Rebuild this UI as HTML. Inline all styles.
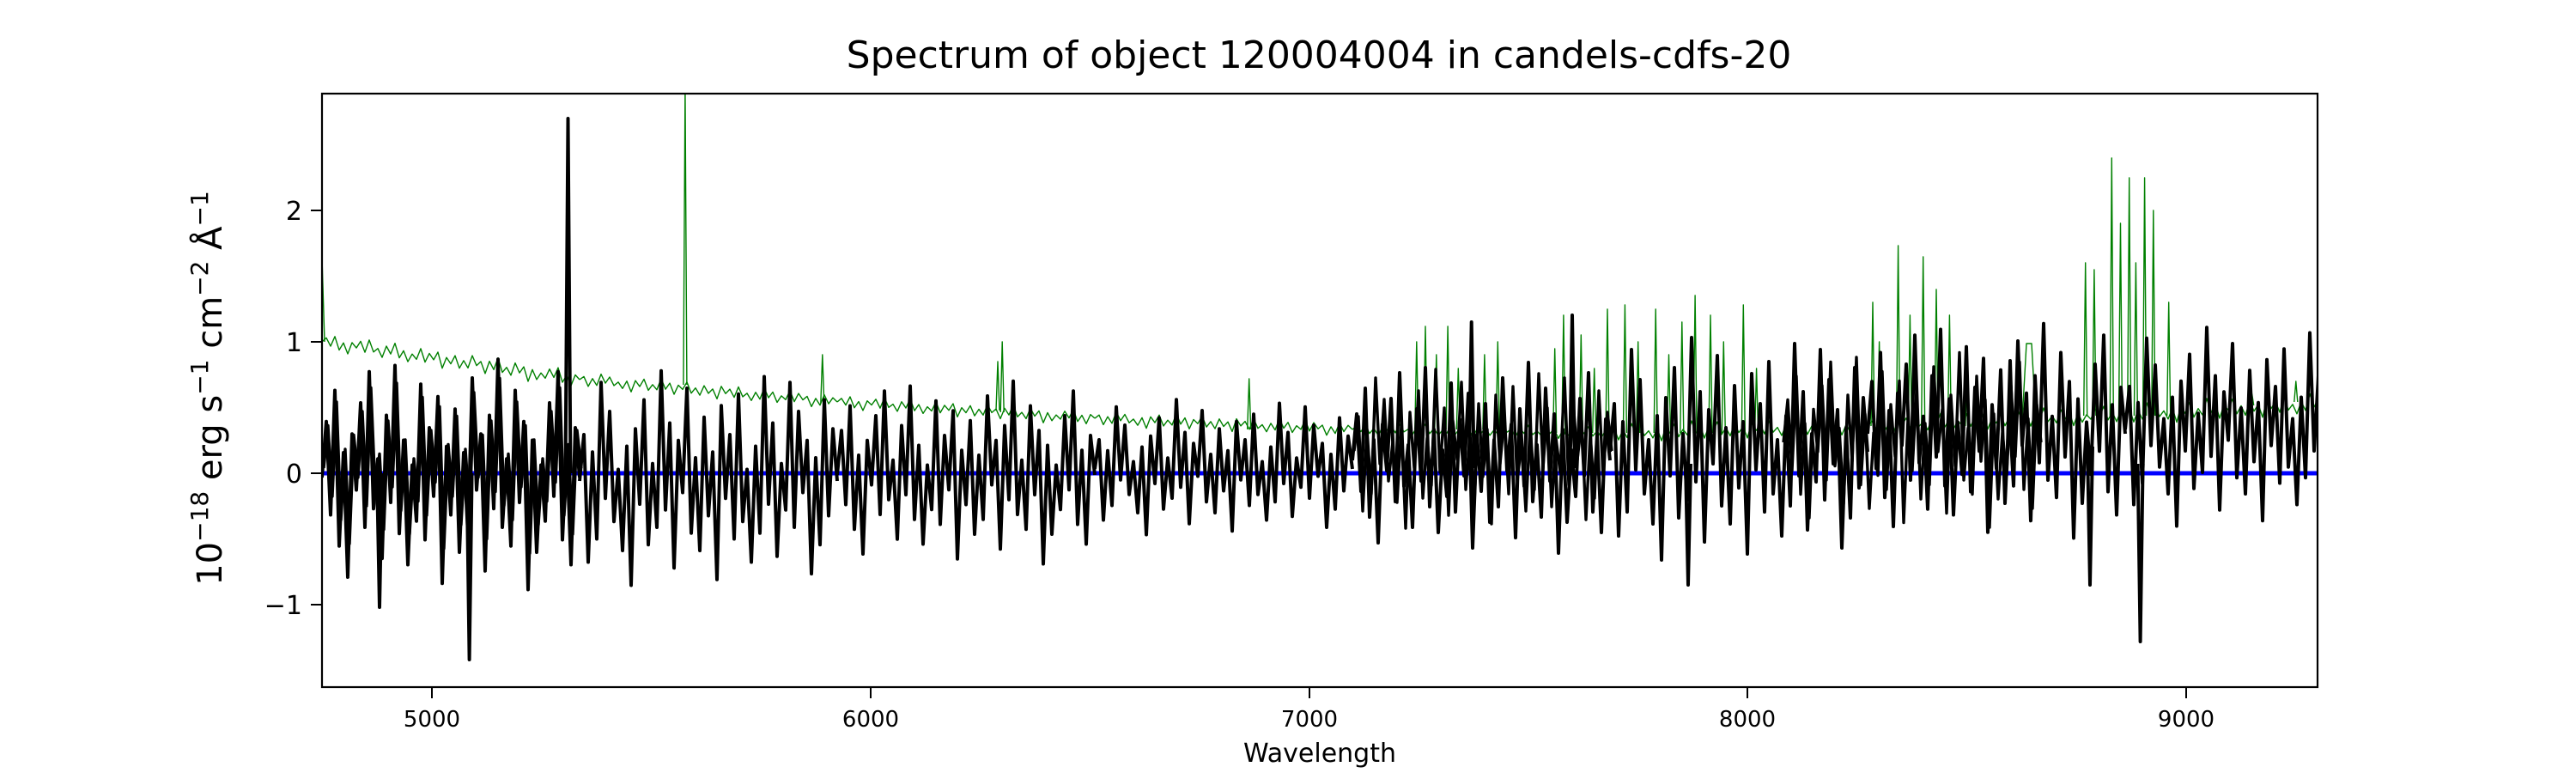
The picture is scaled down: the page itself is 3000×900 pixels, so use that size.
<!DOCTYPE html>
<html><head><meta charset="utf-8"><style>
html,body{margin:0;padding:0;background:#fff;}
svg{display:block;font-family:"DejaVu Sans","Liberation Sans",sans-serif;}
</style></head><body>
<svg width="3000" height="900" viewBox="0 0 3000 900" xmlns="http://www.w3.org/2000/svg" xmlns:xlink="http://www.w3.org/1999/xlink">
<rect width="3000" height="900" fill="#fff"/>
<defs>
<clipPath id="c"><rect x="375" y="109" width="2324" height="691"/></clipPath>
<polyline id="n" fill="none" vector-effect="non-scaling-stroke" stroke-linejoin="round" points="0,0 5,-45 10,30 15,-70 20,55 25,-20 30,80 35,-35 40,10 45,-60 50,40 55,-85 60,25 65,-15 70,65 75,-50 80,20 85,-90 90,45 95,-30 100,70 105,-10 110,35 115,-75 120,50 125,-40 130,15 135,-65 140,85 145,-25 150,30 155,-55 160,60 165,-20 170,45 175,-80 180,10 185,-35 190,75 195,-50 200,25 205,-95 210,40 215,-15 220,55 225,-70 230,20 235,-45 240,90 245,-30 250,60 255,-10 260,35 265,-60 270,15 275,-85 280,50 285,-25 290,70 295,-40 300,0"/>
</defs>
<g clip-path="url(#c)">
<g stroke="#008000" stroke-width="1.4" fill="none">
<use xlink:href="#n" transform="matrix(1,0.1467,0,0.12,375,398)"/>
<use xlink:href="#n" transform="matrix(-1,-0.0867,0,0.1,975,468)"/>
<use xlink:href="#n" transform="matrix(1,0.0633,0,0.1,975,468)"/>
<use xlink:href="#n" transform="matrix(-1,-0.0433,0,0.1,1575,500)"/>
<use xlink:href="#n" transform="matrix(1,0.0133,0,0.08,1575,500)"/>
<use xlink:href="#n" transform="matrix(-1,0.0267,0,0.12,2175,496)"/>
<use xlink:href="#n" transform="matrix(1,-0.0467,0,0.12,2175,496)"/>
<use xlink:href="#n" transform="matrix(-1,0.05,0,0.14,2775,467)"/>
<path d="M375,300 L378,398"/>
</g>
<g stroke="#008000" stroke-width="1.4" fill="none" stroke-linejoin="round">
<path d="M795.9,448 L797.9,100 L799.9,448 M955.8,470 L957.8,413 L959.8,470 M1160,478 L1162,421 L1164,478 M1165.2,480 L1167.2,398 L1169.2,480 M1452.7,500 L1454.7,441 L1456.7,500"/>
<path d="M1647.8,500 L1649.8,398 L1651.8,500 M1658,500 L1660,380 L1662,500 M1670.8,500 L1672.8,413 L1674.8,500 M1684.1,500 L1686.1,380 L1688.1,500 M1696.3,500 L1698.3,429 L1700.3,500 M1711.7,500 L1713.7,378 L1715.7,500 M1726.9,500 L1728.9,413 L1730.9,500 M1742.3,500 L1744.3,398 L1746.3,500"/>
<path d="M1808.7,504 L1810.7,406 L1812.7,504 M1818.9,504 L1820.9,367 L1822.9,504 M1839.3,504 L1841.3,390 L1843.3,504 M1854.7,504 L1856.7,429 L1858.7,504 M1870,504 L1872,360 L1874,504 M1890.4,504 L1892.4,355 L1894.4,504 M1905.7,504 L1907.7,398 L1909.7,504 M1926.2,504 L1928.2,360 L1930.2,504 M1941.5,504 L1943.5,413 L1945.5,504 M1956.8,504 L1958.8,375 L1960.8,504 M1972.1,504 L1974.1,344 L1976.1,504 M1990,504 L1992,367 L1994,504 M2005.3,504 L2007.3,398 L2009.3,504 M2028.3,504 L2030.3,355 L2032.3,504 M2043.6,504 L2045.6,429 L2047.6,504"/>
<path d="M2179,496 L2181,352 L2183,496 M2186.6,496 L2188.6,398 L2190.6,496 M2208.6,496 L2210.6,286 L2212.6,496 M2222.4,496 L2224.4,367 L2226.4,496 M2237.7,496 L2239.7,299 L2241.7,496 M2253,496 L2255,337 L2257,496 M2268.4,496 L2270.4,367 L2272.4,496 M2288.8,496 L2290.8,444 L2292.8,496 M2355,490 L2360,400 L2366,400 L2371,490"/>
<path d="M2426.7,484 L2428.7,306 L2430.7,484 M2436.9,484 L2438.9,314 L2440.9,484 M2457.3,484 L2459.3,184 L2461.3,484 M2467.5,484 L2469.5,260 L2471.5,484 M2477.7,484 L2479.7,207 L2481.7,484 M2485.4,484 L2487.4,306 L2489.4,484 M2495.6,484 L2497.6,207 L2499.6,484 M2505.8,484 L2507.8,245 L2509.8,484 M2523.7,484 L2525.7,352 L2527.7,484 M2620.7,472 L2622.7,459 L2624.7,472 M2671.8,468 L2673.8,444 L2675.8,468"/>
</g>
<line x1="375" y1="551" x2="2699" y2="551" stroke="#0000ff" stroke-width="5"/>
<g stroke="#000" stroke-width="4" fill="none">
<use xlink:href="#n" transform="matrix(1,0,0,1.45,375,556)"/>
<use xlink:href="#n" transform="matrix(-1,0,0,1.35,975,560)"/>
<use xlink:href="#n" transform="matrix(1,0,0,1.15,975,553)"/>
<use xlink:href="#n" transform="matrix(-1,0,0,0.85,1575,546)"/>
<use xlink:href="#n" transform="matrix(1,0,0,1.2,1575,536)"/>
<use xlink:href="#n" transform="matrix(-1,0,0,1.4,2175,526)"/>
<use xlink:href="#n" transform="matrix(1,0,0,1.35,2175,505)"/>
<use xlink:href="#n" transform="matrix(-1,0,0,1.25,2775,500)"/>
<use xlink:href="#n" transform="matrix(1,0,0,1.1,377,545)" stroke-width="3.4"/>
<use xlink:href="#n" transform="matrix(-1,0,0,1.0,1877,525)" stroke-width="3.4"/>
<use xlink:href="#n" transform="matrix(1,0,0,1.1,2077,515)" stroke-width="3.4"/>
<path stroke-linejoin="round" d="M658.5,551 L661.5,138 L664.5,551 M543.6,551 L546.6,768 L549.6,551 M2489.6,540 L2492.6,747 L2495.6,540 M1710.7,545 L1713.7,375 L1716.7,545 M1828,545 L1831,367 L1834,545 M1963,540 L1966,681 L1969,540 M439,551 L442,707 L445,551 M2431,520 L2434,681 L2437,520 M2338,520 L2341,420 L2344,520"/>
</g>
</g>
<rect x="375" y="109" width="2324" height="691" fill="none" stroke="#000" stroke-width="2.2"/>
<g stroke="#000" stroke-width="2">
<line x1="503" y1="800" x2="503" y2="813"/><line x1="1014" y1="800" x2="1014" y2="813"/>
<line x1="1525" y1="800" x2="1525" y2="813"/><line x1="2035" y1="800" x2="2035" y2="813"/>
<line x1="2546" y1="800" x2="2546" y2="813"/>
<line x1="362" y1="245" x2="375" y2="245"/><line x1="362" y1="398" x2="375" y2="398"/>
<line x1="362" y1="551" x2="375" y2="551"/><line x1="362" y1="704" x2="375" y2="704"/>
</g>
<g font-size="26" text-anchor="middle" fill="#000">
<text x="503" y="846">5000</text><text x="1014" y="846">6000</text><text x="1525" y="846">7000</text>
<text x="2035" y="846">8000</text><text x="2546" y="846">9000</text>
</g>
<g font-size="30" text-anchor="end" fill="#000">
<text x="352" y="256">2</text><text x="352" y="409">1</text><text x="352" y="562">0</text><text x="352" y="715">−1</text>
</g>
<text x="1536" y="79" font-size="44" text-anchor="middle" fill="#000">Spectrum of object 120004004 in candels-cdfs-20</text>
<text x="1537" y="887" font-size="30" text-anchor="middle" fill="#000">Wavelength</text>
<text transform="translate(258,452) rotate(-90)" font-size="40" text-anchor="middle" fill="#000">10<tspan font-size="28" dy="-16">−18</tspan><tspan dy="16"> erg s</tspan><tspan font-size="28" dy="-16">−1</tspan><tspan dy="16"> cm</tspan><tspan font-size="28" dy="-16">−2</tspan><tspan dy="16"> Å</tspan><tspan font-size="28" dy="-16">−1</tspan></text>
</svg>
</body></html>
